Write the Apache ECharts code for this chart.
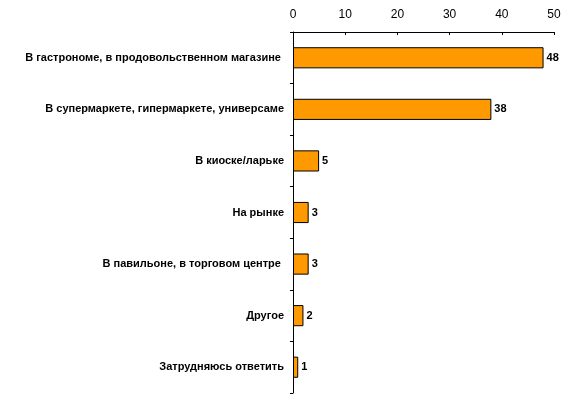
<!DOCTYPE html>
<html><head><meta charset="utf-8">
<script src="https://cdn.jsdelivr.net/npm/echarts@6/dist/echarts.min.js"></script>
<style>html,body{margin:0;padding:0;background:#fff}#c{width:582px;height:400px}</style>
</head><body><div id="c"></div>
<script>
const categories = ["В гастрономе, в продовольственном магазине ", "В супермаркете, гипермаркете, универсаме", "В киоске/ларьке", "На рынке", "В павильоне, в торговом центре ", "Другое", "Затрудняюсь ответить"];
const values = [48, 38, 5, 3, 3, 2, 1];
const xTicks = [0, 10, 20, 30, 40, 50];

const chart = echarts.init(document.getElementById('c'), null, {renderer: 'canvas'});
chart.setOption({
  animation: false,
  backgroundColor: '#fff',
  grid: {left: 293, right: 28, top: 32, bottom: 7, containLabel: false},
  xAxis: {
    type: 'value', position: 'top', min: xTicks[0], max: xTicks[xTicks.length-1], interval: 10,
    axisLine: {show: true, lineStyle: {color: '#000', width: 1}},
    axisTick: {show: true, inside: true, length: 3, lineStyle: {color: '#000'}},
    splitLine: {show: false},
    axisLabel: {color: '#000', fontFamily: 'Liberation Sans, Arial', fontSize: 12, margin: 11}
  },
  yAxis: {
    type: 'category', inverse: true, data: categories,
    axisLine: {show: true, lineStyle: {color: '#000', width: 1}},
    axisTick: {show: true, length: 3, lineStyle: {color: '#000'}},
    axisLabel: {color: '#000', fontFamily: 'Liberation Sans, Arial', fontSize: 11, fontWeight: 'bold', margin: 9}
  },
  series: [{
    type: 'bar', data: values, barCategoryGap: '59%',
    itemStyle: {color: '#FF9900', borderColor: '#000', borderWidth: 1},
    label: {show: true, position: 'right', distance: 3, color: '#000', fontFamily: 'Liberation Sans, Arial', fontSize: 11, fontWeight: 'bold'}
  }]
});
</script></body></html>
